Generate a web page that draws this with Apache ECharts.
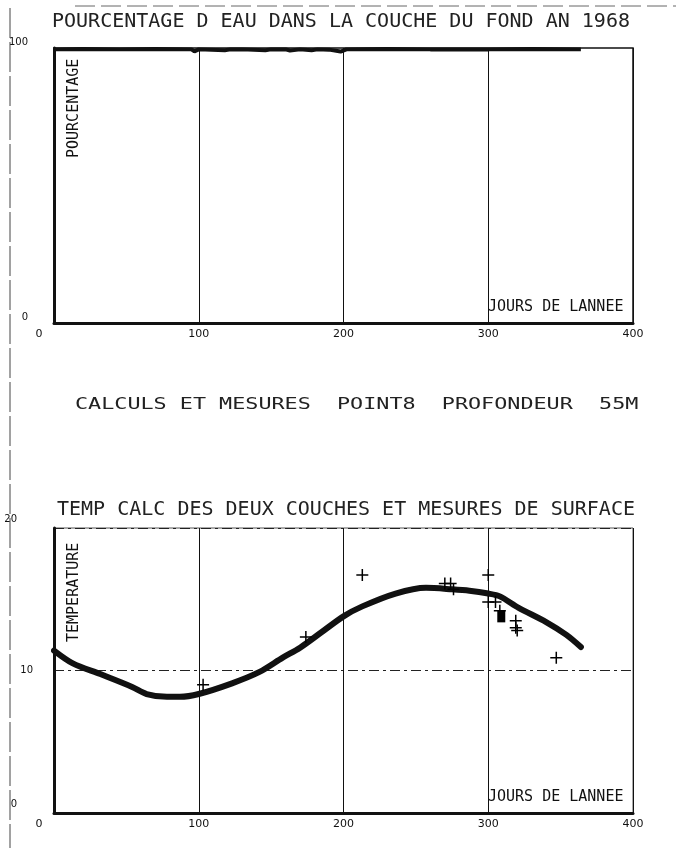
<!DOCTYPE html>
<html>
<head>
<meta charset="utf-8">
<script src="https://cdn.jsdelivr.net/npm/echarts@6/dist/echarts.min.js"></script>
<style>
  html, body { margin: 0; padding: 0; background: #fff; }
  #chart { width: 676px; height: 850px; }
</style>
</head>
<body>
<div id="chart"></div>
<script>
// pourcentage d'eau, couche du fond (jour, %)
const waterDays = [0, 20, 45, 70, 95, 97, 100, 118, 122, 130, 146, 150, 160, 163, 170, 178, 182, 190, 198, 202, 230, 260, 300, 330, 364];
const waterPct = [99.5, 99.6, 99.5, 99.6, 99.5, 98.8, 99.5, 99.2, 99.5, 99.5, 99.2, 99.5, 99.5, 99.1, 99.5, 99.2, 99.5, 99.4, 98.7, 99.5, 99.6, 99.5, 99.5, 99.6, 99.5];

// temperature calculee (jour, degres)
const tempDays = [0, 13, 32, 54, 64, 78, 87, 100, 123, 142, 158, 170, 185, 200, 213, 236, 257, 275, 287, 300, 308, 321, 340, 354, 364];
const tempCalc = [11.4, 10.5, 9.75, 8.85, 8.35, 8.15, 8.15, 8.35, 9.1, 9.9, 10.9, 11.6, 12.7, 13.8, 14.5, 15.4, 15.8, 15.7, 15.6, 15.4, 15.2, 14.4, 13.4, 12.5, 11.65];

// mesures de surface
const measDays = [103, 174, 213, 270, 274, 276, 300, 300, 305, 308, 319, 319, 320, 347];
const measTemp = [9.0, 12.35, 16.7, 16.1, 16.1, 15.7, 16.7, 14.8, 14.8, 14.2, 13.5, 13.0, 12.8, 10.9];
const blockDays = [309];
const blockTemp = [13.8];

const dayTicks = [0, 100, 200, 300, 400];

const ink = '#111';
const mono = '"DejaVu Sans Mono", monospace';
const plus = 'path://M5,0L5,10M0,5L10,5';

function pairs(xs, ys) {
  return xs.map((x, i) => [x, ys[i]]);
}

function dayAxis(gridIndex) {
  return {
    type: 'value', gridIndex, min: dayTicks[0], max: dayTicks[dayTicks.length - 1], interval: 100,
    axisLine: { show: true, lineStyle: { color: ink, width: 3 } },
    axisTick: { show: false },
    splitLine: { show: true, lineStyle: { color: ink, width: 1 } },
    axisLabel: {
      color: ink, fontSize: 11, fontFamily: 'DejaVu Sans', margin: 6,
      formatter: v => v === 0 ? '{z|0}' : String(v),
      rich: { z: { padding: [0, 30, 0, 0], fontSize: 11, color: ink } }
    }
  };
}

const option = {
  animation: false,
  backgroundColor: '#fff',
  grid: [
    { left: 54, right: 43, top: 48, bottom: 527, show: true, borderColor: ink, borderWidth: 1.5 },
    { left: 54, right: 43, top: 528, bottom: 37, show: true, borderColor: '#555', borderWidth: 1 }
  ],
  xAxis: [dayAxis(0), dayAxis(1)],
  yAxis: [
    {
      type: 'value', gridIndex: 0, min: 0, max: 100, interval: 100,
      axisLine: { show: true, lineStyle: { color: ink, width: 3 } },
      axisTick: { show: false },
      splitLine: { show: false },
      axisLabel: {
        color: ink, fontSize: 10, fontFamily: 'DejaVu Sans', margin: 26,
        formatter: v => '{a|' + v + '}',
        rich: { a: { padding: [0, 0, 12, 0], fontSize: 10, color: ink } }
      }
    },
    {
      type: 'value', gridIndex: 1, min: 0, max: 20, interval: 10,
      axisLine: { show: true, lineStyle: { color: ink, width: 3 } },
      axisTick: { show: false },
      splitLine: { show: true, lineStyle: { color: '#222', width: 1, type: [10, 4, 3, 4] } },
      axisLabel: {
        color: ink, fontSize: 10, fontFamily: 'DejaVu Sans', margin: 21,
        formatter: v => v === 10 ? '{m|10}' : '{o|' + v + '}',
        rich: {
          m: { fontSize: 10, color: ink },
          o: { padding: [0, 16, 18, 0], fontSize: 10, color: ink }
        }
      }
    }
  ],
  series: [
    {
      type: 'line', xAxisIndex: 0, yAxisIndex: 0,
      data: pairs(waterDays, waterPct),
      showSymbol: false,
      lineStyle: { color: ink, width: 4 }
    },
    {
      type: 'line', xAxisIndex: 1, yAxisIndex: 1,
      data: pairs(tempDays, tempCalc),
      smooth: 0.3, showSymbol: false,
      lineStyle: { color: ink, width: 6, cap: 'round', join: 'round' }
    },
    {
      type: 'scatter', xAxisIndex: 1, yAxisIndex: 1,
      data: pairs(measDays, measTemp),
      symbol: plus, symbolSize: 12,
      itemStyle: { color: 'rgba(0,0,0,0)', borderColor: '#000', borderWidth: 1.5, opacity: 1 },
      z: 5
    },
    {
      type: 'scatter', xAxisIndex: 1, yAxisIndex: 1,
      data: pairs(blockDays, blockTemp),
      symbol: 'rect', symbolSize: [8, 12],
      itemStyle: { color: '#000', opacity: 1 },
      z: 5
    }
  ],
  graphic: [
    // bords du scan
    { type: 'line', shape: { x1: 10, y1: 8, x2: 10, y2: 848 }, style: { stroke: '#444', lineWidth: 1, lineDash: [30, 4] } },
    { type: 'line', shape: { x1: 75, y1: 6, x2: 676, y2: 6 }, style: { stroke: '#666', lineWidth: 1, lineDash: [20, 6] } },
    // titres
    { type: 'text', left: 52, top: 12, style: { text: 'POURCENTAGE D EAU DANS LA COUCHE DU FOND AN 1968', font: '20px ' + mono, fill: '#222' } },
    { type: 'text', x: 75, y: 397, scaleX: 1.36, style: { text: 'CALCULS ET MESURES  POINT8  PROFONDEUR  55M', font: '16px ' + mono, fill: '#222' } },
    { type: 'text', left: 57, top: 500, style: { text: 'TEMP CALC DES DEUX COUCHES ET MESURES DE SURFACE', font: '20px ' + mono, fill: '#222' } },
    // noms des axes
    { type: 'text', x: 67, y: 158, rotation: Math.PI / 2, style: { text: 'POURCENTAGE', font: '15px ' + mono, fill: ink } },
    { type: 'text', x: 67, y: 642, rotation: Math.PI / 2, style: { text: 'TEMPERATURE', font: '15px ' + mono, fill: ink } },
    { type: 'text', x: 488, y: 300, style: { text: 'JOURS DE LANNEE', font: '15px ' + mono, fill: ink } },
    { type: 'text', x: 488, y: 790, style: { text: 'JOURS DE LANNEE', font: '15px ' + mono, fill: ink } }
  ]
};

echarts.init(document.getElementById('chart')).setOption(option);
</script>
</body>
</html>
